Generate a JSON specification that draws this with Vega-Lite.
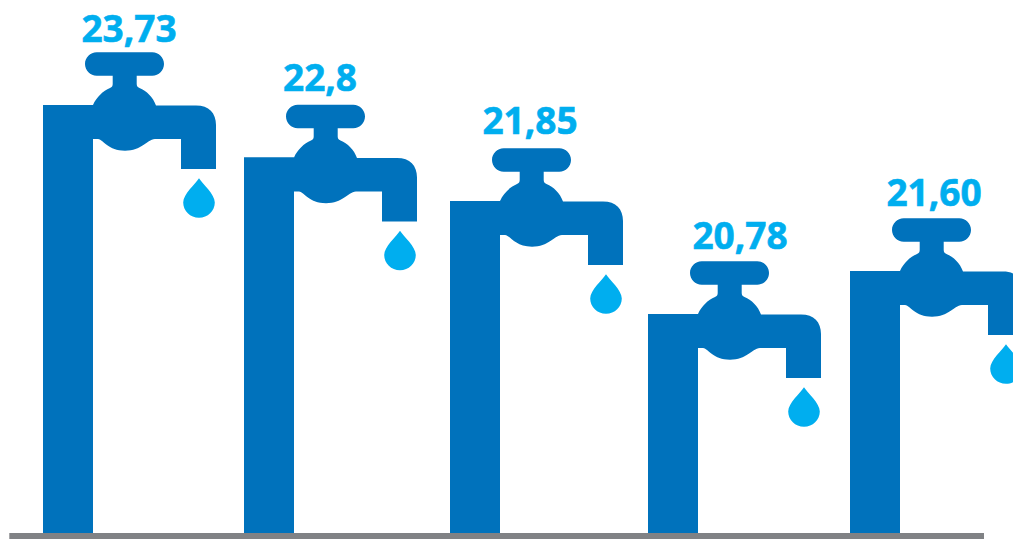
{
  "$schema": "https://vega.github.io/schema/vega-lite/v6.json",
  "width": 1013,
  "height": 539,
  "padding": 0,
  "autosize": {"type": "none"},
  "background": "white",
  "view": {"stroke": null},
  "data": {"values": [
    {"n": 1, "value": 23.73, "label": "23,73"},
    {"n": 2, "value": 22.8, "label": "22,8"},
    {"n": 3, "value": 21.85, "label": "21,85"},
    {"n": 4, "value": 20.78, "label": "20,78"},
    {"n": 5, "value": 21.6, "label": "21,60"}
  ]},
  "resolve": {"scale": {"x": "independent", "y": "independent"}},
  "layer": [
    {
      "encoding": {
        "x": {"field": "n", "type": "quantitative", "axis": null,
          "scale": {"domain": [0.708, 1, 2, 3, 4, 5, 5.54], "range": [9.3, 68, 269, 475, 673, 875, 984], "zero": false, "nice": false}},
        "y": {"field": "value", "type": "quantitative", "axis": null,
          "scale": {"domain": [0, 20.78, 21.6, 21.85, 22.8, 23.73], "range": [536, 314, 271, 201, 157.5, 105], "zero": false, "nice": false}}
      },
      "layer": [
        {
          "mark": {"type": "rule", "strokeWidth": 50, "color": "#0072BC", "strokeCap": "butt"},
          "encoding": {"y2": {"datum": 0}}
        },
        {
          "mark": {"type": "point", "filled": true, "opacity": 1, "size": 4, "color": "#0072BC",
            "shape": "M -25 0 L 25 0 C 28.5 -8 35 -14 42 -17 C 44 -18 44.7 -19 44.7 -21 L 44.7 -29.3 L 28.7 -29.3 C 22.3 -29.3 17 -34.5 17 -41 C 17 -47.5 22.3 -52.7 28.7 -52.7 L 84.3 -52.7 C 90.8 -52.7 96 -47.5 96 -41 C 96 -34.5 90.8 -29.3 84.3 -29.3 L 68.7 -29.3 L 68.7 -21 C 68.7 -19 69.5 -18 71.5 -17 C 78.5 -14 85 -8 88 0.5 L 128 0.5 C 141 0.5 148 8 148 20 L 148 64 L 113 64 L 113 34 L 87 34 C 78 35 74 45.7 57 45.7 C 40 45.7 36 35 30 34 L 25 34 L -25 34 Z"}
        },
        {
          "mark": {"type": "point", "filled": true, "opacity": 1, "size": 4, "color": "#00AEEF",
            "shape": "M 131 73.3 C 134.5 79 146.8 89 146.8 97.5 C 146.8 106 139.7 112.7 131 112.7 C 122.3 112.7 115.2 106 115.2 97.5 C 115.2 89 127.5 79 131 73.3 Z"}
        },
        {
          "data": {"values": [{"a": 0.708, "b": 5.54, "z": 0}]},
          "mark": {"type": "rule", "strokeWidth": 6, "color": "#808285", "strokeCap": "butt"},
          "encoding": {
            "x": {"field": "a", "type": "quantitative"},
            "x2": {"field": "b"},
            "y": {"field": "z", "type": "quantitative"}
          }
        }
      ]
    },
    {
      "mark": {"type": "text", "font": "Open Sans", "fontWeight": "bold", "fontSize": 37, "color": "#00AEEF", "stroke": "#00AEEF", "strokeWidth": 0.6, "align": "center", "baseline": "alphabetic"},
      "encoding": {
        "x": {"field": "n", "type": "quantitative", "axis": null,
          "scale": {"domain": [1, 2, 3, 4, 5], "range": [129, 320, 530, 740, 934], "zero": false, "nice": false}},
        "y": {"field": "value", "type": "quantitative", "axis": null,
          "scale": {"domain": [20.78, 21.6, 21.85, 22.8, 23.73], "range": [249, 206, 134, 91, 42], "zero": false, "nice": false}},
        "text": {"field": "label", "type": "nominal"}
      }
    }
  ]
}
